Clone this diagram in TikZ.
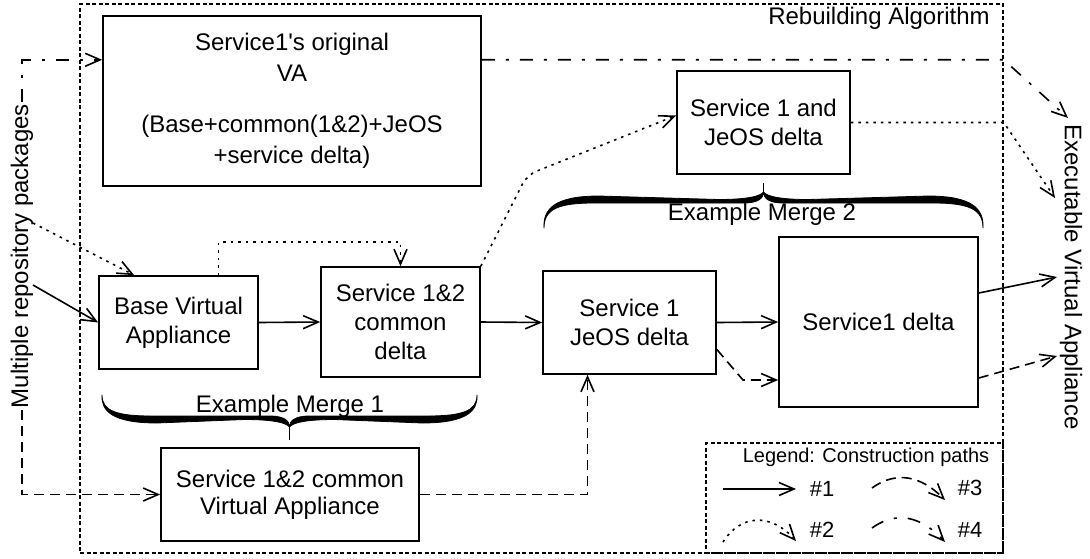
\documentclass[tikz,border=0pt]{standalone}
\usepackage{fontspec}
\setmainfont{Liberation Sans}
\usetikzlibrary{arrows.meta,calc}
\newcommand\halfbrace[3]{%
  \filldraw[line width=0.8pt, line join=round] (0,0) .. controls (0,{#2*0.75}) and (14,#2) .. (50,#2) -- ({#1-20},#2)
    .. controls ({#1-5},#2) and (#1,{#2+5}) .. (#1,{#2+11})
    .. controls ({#1-3},{#2+7}) and ({#1-15},{#2+3.5}) .. ({#1-45},{#2+3.5})
    -- (55,{#2+7}) .. controls (10,{#2+7}) and (-1,{#2*0.75}) .. (0,0) -- cycle;
  \draw[line width=1.4pt] (#1,{#2+8}) -- (#1,#3);}
\begin{document}
\begin{tikzpicture}[x=1pt,y=-1pt,
  every node/.style={font=\fontsize{24}{29}\selectfont},
  box/.style={draw, line width=1.7pt, inner sep=0pt, align=center},
  dbox/.style={draw, line width=1.5pt, dash pattern=on 4pt off 2.5pt, inner sep=0pt},
  tip/.style={-{Straight Barb[length=15pt,width=13pt]}},
  p1/.style={line width=1.6pt, tip},
  p2/.style={line width=1.6pt, dash pattern=on 2.5pt off 5pt, tip},
  p3/.style={line width=1.6pt, dash pattern=on 10pt off 6pt, tip},
  p4/.style={line width=1.6pt, dash pattern=on 13pt off 11pt on 3pt off 11pt, tip}]
\useasboundingbox (0,0) rectangle (1090,558);
% frames
\node[dbox, minimum width=923pt, minimum height=549pt] (outer) at (541.5,278.5) {};
\node[dbox, minimum width=297pt, minimum height=110pt] (legend) at (854.5,498) {};
% boxes
\node[box, minimum width=378pt, minimum height=170pt, font=\fontsize{24}{31}\selectfont] (orig) at (292,101)
  {Service1\textquotesingle s original\\VA\\[20pt](Base+common(1\&2)+JeOS\\+service delta)};
\node[box, minimum width=159pt, minimum height=93pt] (base) at (178.5,322.5) {Base Virtual\\Appliance};
\node[box, minimum width=159pt, minimum height=110pt] (common) at (400.5,322) {Service 1\&2\\common\\delta};
\node[box, minimum width=173pt, minimum height=103pt] (jeos) at (629.5,322.5) {Service 1\\JeOS delta};
\node[box, minimum width=199pt, minimum height=170pt] (s1delta) at (878.5,322) {Service1 delta};
\node[box, minimum width=173pt, minimum height=103pt] (s1jeos) at (763.5,122.5) {Service 1 and\\JeOS delta};
\node[box, minimum width=258pt, minimum height=93pt, font=\fontsize{24}{27}\selectfont] (cva) at (290,494.5)
  {Service 1\&2 common\\Virtual Appliance};
% labels
\node (rb) at (879,18) {Rebuilding Algorithm};
\node (em1) at (290,406) {Example Merge 1};
\node (em2) at (762,214) {Example Merge 2};
\node[rotate=90, inner sep=2pt] (mrp) at (22,256) {Multiple repository packages};
\node[rotate=-90, inner sep=2pt] (exec) at (1071,277) {Executable Virtual Appliance};
\node[font=\fontsize{20}{24}\selectfont] (lt) at (866,457) {Legend: Construction paths};
\node[font=\fontsize{22}{26}\selectfont] (l1) at (822,489) {\#1};
\node[font=\fontsize{22}{26}\selectfont] (l2) at (822,530) {\#2};
\node[font=\fontsize{22}{26}\selectfont] (l3) at (970,488) {\#3};
\node[font=\fontsize{22}{26}\selectfont] (l4) at (970,530) {\#4};
% braces
\begin{scope}[shift={(102,395)}] \halfbrace{187.5}{21}{45} \end{scope}
\begin{scope}[shift={(477,395)}, xscale=-1] \halfbrace{187.5}{21}{45} \end{scope}
\begin{scope}[shift={(544,228)}, yscale=-1] \halfbrace{219.5}{25}{45} \end{scope}
\begin{scope}[shift={(983,228)}, xscale=-1, yscale=-1] \halfbrace{219.5}{25}{45} \end{scope}
% coordinates
\coordinate (q1) at (33,285);
\coordinate (q2) at (33,223);
\coordinate (k2) at (527,175);
\coordinate (k3) at (743,380);
\coordinate (o1) at ($(orig.north east)!0.26!(orig.south east)$);
\coordinate (o0) at ($(orig.north west)!0.26!(orig.south west)$);
\coordinate (e1) at (1068,118);
\coordinate (e2) at (1055,198);
\coordinate (e3) at (1057,277);
\coordinate (e4) at (1057,356);
% connectors
\draw[p4] (mrp.east) |- (o0);
\draw[p3] (mrp.west) |- (cva.west);
\draw[p2] (q2) -- ($(base.north west)+(36,0)$);
\draw[p1] (q1) -- (base.west);
\draw[p1] (base.east) -- (common.west);
\draw[p2] ($(base.north)+(40,0)$) -- ++(0,-33) -| (common.north);
\draw[p2, rounded corners=10pt] (common.north east) -- (k2) -- ($(s1jeos.west)+(0,-7)$);
\draw[p1] (common.east) -- (jeos.west);
\draw[p1] (jeos.east) -- (s1delta.west);
\draw[p3] ($(jeos.east)+(0,27)$) -- (k3) -- (k3 -| s1delta.west);
\draw[p3] (cva.east) -| ($(jeos.south)+(-42,0)$);
\draw[p4] (o1) -- (o1 -| outer.east) -- (e1);
\draw[p2] (s1jeos.east) -- (s1jeos.east -| outer.east) -- (e2);
\draw[p1] ($(s1delta.east)+(0,-29)$) -- (e3);
\draw[p3] ($(s1delta.east)+(0,56)$) -- (e4);
% legend samples
\coordinate (a1s) at (723,489); \coordinate (a1e) at (796,489);
\coordinate (a2s) at (723,542); \coordinate (a2e) at (796,541);
\coordinate (a3s) at (872,488); \coordinate (a3e) at (945,500);
\coordinate (a4s) at (872,528); \coordinate (a4e) at (945,542);
\draw[p1] (a1s) -- (a1e);
\draw[p2] (a2s) .. controls (740,515) and (770,512) .. (a2e);
\draw[p3] (a3s) .. controls (890,475) and (915,470) .. (a3e);
\draw[p4] (a4s) .. controls (890,515) and (915,510) .. (a4e);
\end{tikzpicture}
\end{document}
